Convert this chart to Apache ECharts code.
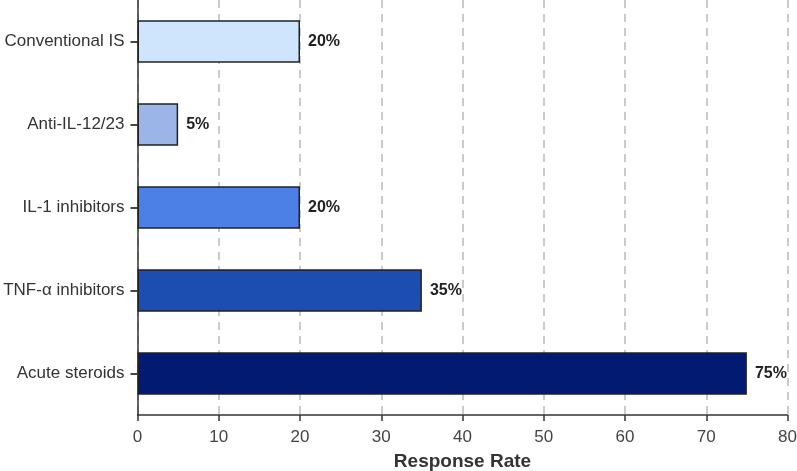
<!DOCTYPE html>
<html>
<head>
<meta charset="utf-8">
<script src="https://cdn.jsdelivr.net/npm/echarts@6/dist/echarts.min.js"></script>
<style>html,body{margin:0;padding:0;background:#fff;}#c{width:797px;height:471px;}</style>
</head>
<body>
<div id="c"></div>
<script>
const categories = ["Acute steroids", "TNF-α inhibitors", "IL-1 inhibitors", "Anti-IL-12/23", "Conventional IS"];
const values = [75, 35, 20, 5, 20];
const colors = ["#021a72", "#1c4db1", "#4d80e6", "#9bb5e8", "#cfe5fd"];
const xTicks = [0, 10, 20, 30, 40, 50, 60, 70, 80];

const chart = echarts.init(document.getElementById('c'), null, {renderer: 'canvas'});
chart.setOption({
  animation: false,
  backgroundColor: '#ffffff',
  grid: {left: 137.5, right: 9.5, top: 0, bottom: 56, containLabel: false, outerBoundsMode: 'none'},
  xAxis: {
    type: 'value',
    min: xTicks[0], max: xTicks[xTicks.length - 1], interval: 10,
    name: 'Response Rate', nameLocation: 'middle', nameGap: 37,
    nameTextStyle: {fontFamily: 'Liberation Sans, Arial', fontSize: 19, fontWeight: 'bold', color: '#333'},
    axisLine: {show: true, lineStyle: {color: '#333', width: 1.5}},
    axisTick: {show: true, length: 6, lineStyle: {color: '#333', width: 1.5}},
    axisLabel: {fontFamily: 'Liberation Sans, Arial', fontSize: 17, color: '#444', margin: 14},
    splitLine: {show: true, lineStyle: {color: '#bbbbbb', type: [8, 6], width: 1.5}}
  },
  yAxis: {
    type: 'category',
    data: categories,
    axisLine: {show: true, lineStyle: {color: '#333', width: 1.5}},
    axisTick: {show: true, alignWithLabel: true, length: 7, lineStyle: {color: '#333', width: 1.8}},
    axisLabel: {fontFamily: 'Liberation Sans, Arial', fontSize: 17, color: '#333', margin: 13},
    splitLine: {show: false}
  },
  series: [{
    type: 'bar',
    data: values.map((v, i) => ({value: v, itemStyle: {color: colors[i]}})),
    barCategoryGap: '49%',
    itemStyle: {borderColor: '#222', borderWidth: 1.5},
    label: {
      show: true, position: 'right', distance: 8,
      formatter: p => p.value + '%',
      fontFamily: 'Liberation Sans, Arial', fontSize: 16, fontWeight: 'bold', color: '#222'
    }
  }]
});
</script>
</body>
</html>
